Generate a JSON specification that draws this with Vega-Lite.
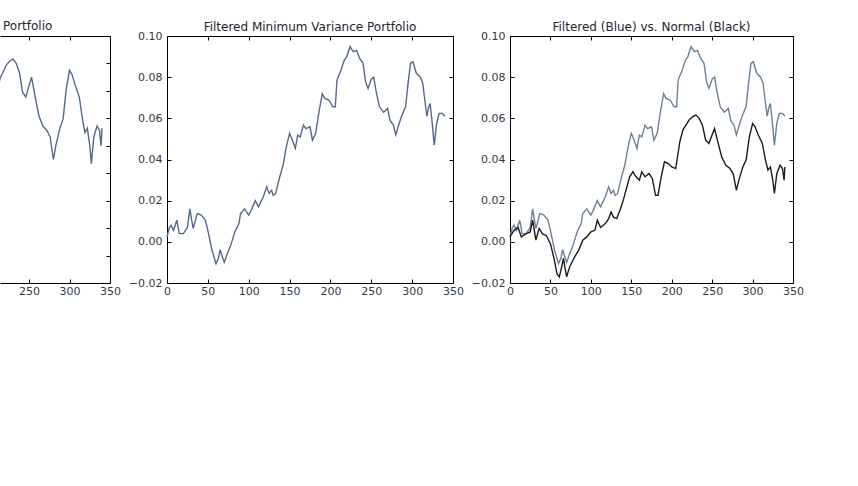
{
  "$schema": "https://vega.github.io/schema/vega-lite/v6.json",
  "padding": {"left": 0, "top": 19, "right": 0, "bottom": 0},
  "background": "white",
  "config": {
    "view": {"stroke": null},
    "font": "DejaVu Sans",
    "axis": {"grid": false, "domainColor": "#000000", "domainWidth": 1, "tickColor": "#000000", "tickSize": -4, "tickWidth": 1,
             "labelFont": "DejaVu Sans", "labelFontSize": 11, "labelColor": "#2e3a48", "title": null, "labelFlush": false, "labelOverlap": false},
    "axisX": {"labelPadding": 6},
    "axisY": {"labelPadding": 9},
    "title": {"font": "DejaVu Sans", "fontSize": 12, "fontWeight": "normal", "color": "#1e2530", "offset": 5}
  },
  "datasets": {
    "portfolio": [
      {"t":0,"v":0.0024,"s":"Filtered"},{"t":3,"v":0.007,"s":"Filtered"},{"t":5,"v":0.008,"s":"Filtered"},{"t":8,"v":0.0056,"s":"Filtered"},{"t":12,"v":0.0105,"s":"Filtered"},{"t":15,"v":0.004,"s":"Filtered"},{"t":20,"v":0.004,"s":"Filtered"},{"t":25,"v":0.007,"s":"Filtered"},{"t":28,"v":0.016,"s":"Filtered"},{"t":30,"v":0.011,"s":"Filtered"},{"t":32,"v":0.0065,"s":"Filtered"},{"t":37,"v":0.0137,"s":"Filtered"},{"t":42,"v":0.013,"s":"Filtered"},{"t":47,"v":0.0105,"s":"Filtered"},{"t":50,"v":0.0056,"s":"Filtered"},{"t":55,"v":-0.004,"s":"Filtered"},{"t":60,"v":-0.0106,"s":"Filtered"},{"t":63,"v":-0.008,"s":"Filtered"},{"t":65,"v":-0.0038,"s":"Filtered"},{"t":70,"v":-0.010,"s":"Filtered"},{"t":73,"v":-0.0066,"s":"Filtered"},{"t":78,"v":-0.0017,"s":"Filtered"},{"t":83,"v":0.0048,"s":"Filtered"},{"t":88,"v":0.0089,"s":"Filtered"},{"t":90,"v":0.0137,"s":"Filtered"},{"t":95,"v":0.016,"s":"Filtered"},{"t":100,"v":0.013,"s":"Filtered"},{"t":103,"v":0.0153,"s":"Filtered"},{"t":108,"v":0.020,"s":"Filtered"},{"t":112,"v":0.017,"s":"Filtered"},{"t":118,"v":0.022,"s":"Filtered"},{"t":122,"v":0.0267,"s":"Filtered"},{"t":125,"v":0.0235,"s":"Filtered"},{"t":128,"v":0.025,"s":"Filtered"},{"t":130,"v":0.0226,"s":"Filtered"},{"t":133,"v":0.0235,"s":"Filtered"},{"t":138,"v":0.0316,"s":"Filtered"},{"t":142,"v":0.0372,"s":"Filtered"},{"t":146,"v":0.046,"s":"Filtered"},{"t":150,"v":0.0527,"s":"Filtered"},{"t":153,"v":0.050,"s":"Filtered"},{"t":157,"v":0.0454,"s":"Filtered"},{"t":160,"v":0.0518,"s":"Filtered"},{"t":163,"v":0.051,"s":"Filtered"},{"t":167,"v":0.0567,"s":"Filtered"},{"t":170,"v":0.055,"s":"Filtered"},{"t":175,"v":0.0559,"s":"Filtered"},{"t":178,"v":0.0494,"s":"Filtered"},{"t":182,"v":0.0527,"s":"Filtered"},{"t":186,"v":0.0632,"s":"Filtered"},{"t":190,"v":0.072,"s":"Filtered"},{"t":193,"v":0.0697,"s":"Filtered"},{"t":198,"v":0.0689,"s":"Filtered"},{"t":203,"v":0.0656,"s":"Filtered"},{"t":206,"v":0.0656,"s":"Filtered"},{"t":208,"v":0.0786,"s":"Filtered"},{"t":213,"v":0.0835,"s":"Filtered"},{"t":217,"v":0.0883,"s":"Filtered"},{"t":220,"v":0.090,"s":"Filtered"},{"t":224,"v":0.0948,"s":"Filtered"},{"t":228,"v":0.0924,"s":"Filtered"},{"t":232,"v":0.093,"s":"Filtered"},{"t":236,"v":0.089,"s":"Filtered"},{"t":240,"v":0.0867,"s":"Filtered"},{"t":243,"v":0.0778,"s":"Filtered"},{"t":246,"v":0.0745,"s":"Filtered"},{"t":250,"v":0.079,"s":"Filtered"},{"t":253,"v":0.080,"s":"Filtered"},{"t":256,"v":0.073,"s":"Filtered"},{"t":260,"v":0.0656,"s":"Filtered"},{"t":265,"v":0.063,"s":"Filtered"},{"t":270,"v":0.0648,"s":"Filtered"},{"t":273,"v":0.059,"s":"Filtered"},{"t":277,"v":0.0567,"s":"Filtered"},{"t":280,"v":0.052,"s":"Filtered"},{"t":283,"v":0.056,"s":"Filtered"},{"t":287,"v":0.061,"s":"Filtered"},{"t":292,"v":0.0656,"s":"Filtered"},{"t":295,"v":0.077,"s":"Filtered"},{"t":298,"v":0.0867,"s":"Filtered"},{"t":301,"v":0.0875,"s":"Filtered"},{"t":305,"v":0.082,"s":"Filtered"},{"t":310,"v":0.080,"s":"Filtered"},{"t":313,"v":0.077,"s":"Filtered"},{"t":315,"v":0.0705,"s":"Filtered"},{"t":318,"v":0.061,"s":"Filtered"},{"t":320,"v":0.065,"s":"Filtered"},{"t":322,"v":0.0672,"s":"Filtered"},{"t":325,"v":0.056,"s":"Filtered"},{"t":327,"v":0.047,"s":"Filtered"},{"t":330,"v":0.0575,"s":"Filtered"},{"t":333,"v":0.0624,"s":"Filtered"},{"t":337,"v":0.0624,"s":"Filtered"},{"t":340,"v":0.061,"s":"Filtered"},
      {"t":0,"v":0.0024,"s":"Normal"},{"t":5,"v":0.0056,"s":"Normal"},{"t":10,"v":0.007,"s":"Normal"},{"t":14,"v":0.0024,"s":"Normal"},{"t":20,"v":0.004,"s":"Normal"},{"t":25,"v":0.0048,"s":"Normal"},{"t":28,"v":0.0105,"s":"Normal"},{"t":32,"v":0.0008,"s":"Normal"},{"t":36,"v":0.0065,"s":"Normal"},{"t":40,"v":0.004,"s":"Normal"},{"t":45,"v":0.003,"s":"Normal"},{"t":50,"v":-0.0009,"s":"Normal"},{"t":55,"v":-0.009,"s":"Normal"},{"t":58,"v":-0.0155,"s":"Normal"},{"t":61,"v":-0.017,"s":"Normal"},{"t":64,"v":-0.012,"s":"Normal"},{"t":66,"v":-0.008,"s":"Normal"},{"t":70,"v":-0.017,"s":"Normal"},{"t":74,"v":-0.012,"s":"Normal"},{"t":80,"v":-0.0073,"s":"Normal"},{"t":85,"v":-0.004,"s":"Normal"},{"t":90,"v":0.0008,"s":"Normal"},{"t":95,"v":0.0024,"s":"Normal"},{"t":100,"v":0.0048,"s":"Normal"},{"t":105,"v":0.0056,"s":"Normal"},{"t":108,"v":0.0105,"s":"Normal"},{"t":112,"v":0.007,"s":"Normal"},{"t":118,"v":0.0089,"s":"Normal"},{"t":122,"v":0.0113,"s":"Normal"},{"t":125,"v":0.0145,"s":"Normal"},{"t":128,"v":0.012,"s":"Normal"},{"t":132,"v":0.0113,"s":"Normal"},{"t":136,"v":0.0153,"s":"Normal"},{"t":140,"v":0.020,"s":"Normal"},{"t":144,"v":0.0259,"s":"Normal"},{"t":148,"v":0.0316,"s":"Normal"},{"t":152,"v":0.034,"s":"Normal"},{"t":156,"v":0.0316,"s":"Normal"},{"t":160,"v":0.030,"s":"Normal"},{"t":163,"v":0.034,"s":"Normal"},{"t":167,"v":0.0316,"s":"Normal"},{"t":172,"v":0.0332,"s":"Normal"},{"t":176,"v":0.0308,"s":"Normal"},{"t":180,"v":0.0226,"s":"Normal"},{"t":183,"v":0.0226,"s":"Normal"},{"t":187,"v":0.0316,"s":"Normal"},{"t":191,"v":0.0389,"s":"Normal"},{"t":196,"v":0.038,"s":"Normal"},{"t":200,"v":0.0364,"s":"Normal"},{"t":205,"v":0.0356,"s":"Normal"},{"t":210,"v":0.0485,"s":"Normal"},{"t":214,"v":0.0545,"s":"Normal"},{"t":218,"v":0.057,"s":"Normal"},{"t":222,"v":0.0595,"s":"Normal"},{"t":226,"v":0.0608,"s":"Normal"},{"t":230,"v":0.0616,"s":"Normal"},{"t":234,"v":0.060,"s":"Normal"},{"t":238,"v":0.0567,"s":"Normal"},{"t":242,"v":0.0494,"s":"Normal"},{"t":246,"v":0.0478,"s":"Normal"},{"t":250,"v":0.052,"s":"Normal"},{"t":253,"v":0.055,"s":"Normal"},{"t":257,"v":0.0486,"s":"Normal"},{"t":262,"v":0.041,"s":"Normal"},{"t":267,"v":0.0372,"s":"Normal"},{"t":272,"v":0.0356,"s":"Normal"},{"t":276,"v":0.0332,"s":"Normal"},{"t":280,"v":0.025,"s":"Normal"},{"t":283,"v":0.030,"s":"Normal"},{"t":288,"v":0.0364,"s":"Normal"},{"t":292,"v":0.0397,"s":"Normal"},{"t":296,"v":0.051,"s":"Normal"},{"t":300,"v":0.0575,"s":"Normal"},{"t":303,"v":0.056,"s":"Normal"},{"t":307,"v":0.052,"s":"Normal"},{"t":312,"v":0.0478,"s":"Normal"},{"t":316,"v":0.0397,"s":"Normal"},{"t":319,"v":0.0348,"s":"Normal"},{"t":322,"v":0.0364,"s":"Normal"},{"t":325,"v":0.030,"s":"Normal"},{"t":327,"v":0.0235,"s":"Normal"},{"t":330,"v":0.0332,"s":"Normal"},{"t":334,"v":0.0372,"s":"Normal"},{"t":337,"v":0.0356,"s":"Normal"},{"t":339,"v":0.030,"s":"Normal"},{"t":340,"v":0.0364,"s":"Normal"}
    ]
  },
  "bounds": "flush",
  "spacing": 57,
  "hconcat": [
    {
      "width": 110, "height": 247,
      "title": {"text": "Portfolio", "anchor": "start", "dx": 3, "offset": 3},
      "data": {"name": "portfolio"},
      "transform": [{"filter": "datum.s === 'Normal'"}],
      "layer": [
        {"mark": {"type": "line", "color": "#54698a", "strokeWidth": 1.4, "clip": true},
         "encoding": {
           "x": {"field": "t", "type": "quantitative", "scale": {"domain": [214, 350], "nice": false, "zero": false},
                 "axis": {"orient": "bottom", "values": [250, 300, 350], "domain": true}},
           "y": {"field": "v", "type": "quantitative", "scale": {"domain": [-0.02, 0.07], "nice": false, "zero": false}, "axis": null}}},
        {"mark": {"type": "line", "opacity": 0, "clip": true},
         "encoding": {
           "x": {"field": "t", "type": "quantitative", "axis": {"orient": "top", "values": [250, 300, 350], "labels": false}},
           "y": {"field": "v", "type": "quantitative", "axis": {"orient": "right", "values": [-0.02, -0.01, 0, 0.01, 0.02, 0.03, 0.04, 0.05, 0.06, 0.07], "labels": false}}}}
      ],
      "resolve": {"axis": {"x": "independent", "y": "independent"}}
    },
    {
      "width": 286, "height": 247,
      "title": {"text": "Filtered Minimum Variance Portfolio", "offset": -4},
      "data": {"name": "portfolio"},
      "transform": [{"filter": "datum.s === 'Filtered'"}],
      "layer": [
        {"mark": {"type": "line", "color": "#54698a", "strokeWidth": 1.4},
         "encoding": {
           "x": {"field": "t", "type": "quantitative", "scale": {"domain": [0, 350], "nice": false, "zero": false},
                 "axis": {"orient": "bottom", "values": [0, 50, 100, 150, 200, 250, 300, 350]}},
           "y": {"field": "v", "type": "quantitative", "scale": {"domain": [-0.02, 0.10], "nice": false, "zero": false},
                 "axis": {"orient": "left", "values": [-0.02, 0, 0.02, 0.04, 0.06, 0.08, 0.10], "format": ".2f"}}}},
        {"mark": {"type": "line", "opacity": 0},
         "encoding": {
           "x": {"field": "t", "type": "quantitative", "axis": {"orient": "top", "values": [0, 50, 100, 150, 200, 250, 300, 350], "labels": false}},
           "y": {"field": "v", "type": "quantitative", "axis": {"orient": "right", "values": [-0.02, 0, 0.02, 0.04, 0.06, 0.08, 0.10], "labels": false}}}}
      ],
      "resolve": {"axis": {"x": "independent", "y": "independent"}}
    },
    {
      "width": 283, "height": 247,
      "title": {"text": "Filtered (Blue) vs. Normal (Black)", "offset": -4},
      "data": {"name": "portfolio"},
      "layer": [
        {"mark": {"type": "line", "strokeWidth": 1.4},
         "encoding": {
           "x": {"field": "t", "type": "quantitative", "scale": {"domain": [0, 350], "nice": false, "zero": false},
                 "axis": {"orient": "bottom", "values": [0, 50, 100, 150, 200, 250, 300, 350]}},
           "y": {"field": "v", "type": "quantitative", "scale": {"domain": [-0.02, 0.10], "nice": false, "zero": false},
                 "axis": {"orient": "left", "values": [-0.02, 0, 0.02, 0.04, 0.06, 0.08, 0.10], "format": ".2f"}},
           "color": {"field": "s", "type": "nominal", "scale": {"domain": ["Filtered", "Normal"], "range": ["#6b819a", "#1c1c1c"]}, "legend": null}}},
        {"mark": {"type": "line", "opacity": 0},
         "encoding": {
           "x": {"field": "t", "type": "quantitative", "axis": {"orient": "top", "values": [0, 50, 100, 150, 200, 250, 300, 350], "labels": false}},
           "y": {"field": "v", "type": "quantitative", "axis": {"orient": "right", "values": [-0.02, 0, 0.02, 0.04, 0.06, 0.08, 0.10], "labels": false}},
           "detail": {"field": "s", "type": "nominal"}}}
      ],
      "resolve": {"axis": {"x": "independent", "y": "independent"}}
    }
  ]
}
